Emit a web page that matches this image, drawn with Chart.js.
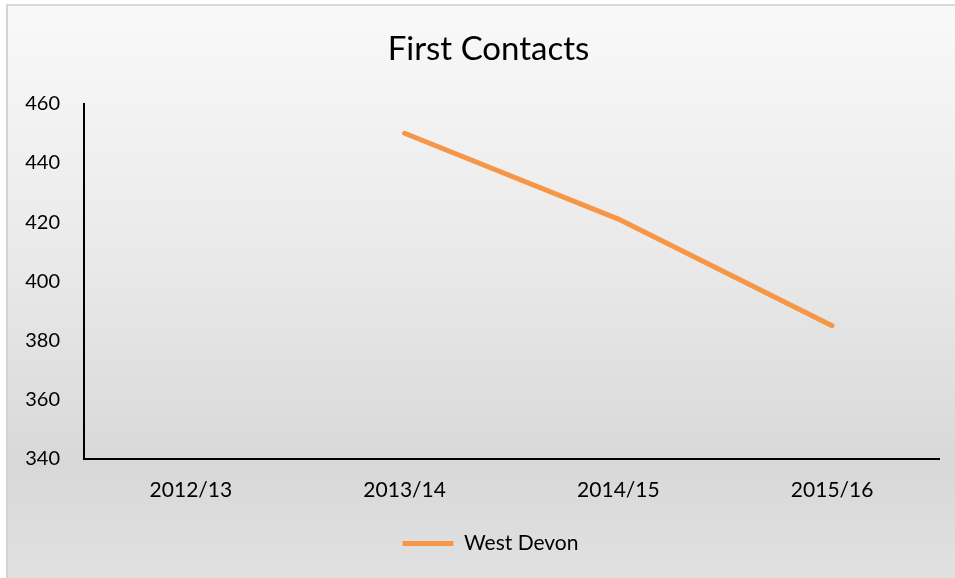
<!DOCTYPE html>
<html>
<head>
<meta charset="utf-8">
<script src="https://cdn.jsdelivr.net/npm/chart.js@4"></script>
<style>
    body { margin: 0; background: #fff; }
    #frame {
        position: absolute; left: 6px; top: 4px; width: 949px; height: 574px;
        border-left: 2px solid #d4d4d4; border-top: 2px solid #d9d9d9;
        background: linear-gradient(to bottom, #f9f9f9 0%, #e9e9e9 45%, #d8d8d8 80%, #e1e1e1 100%);
    }
    #wrap { position: absolute; left: 0; top: 0; width: 955px; height: 578px; }
</style>
</head>
<body>
<div id="frame"></div>
<div id="wrap"><canvas id="firstContactsChart"></canvas></div>
<script>
// Chart data
const years = ['2012/13', '2013/14', '2014/15', '2015/16'];
const westDevon = [null, 450, 421, 385];
const yTicks = [340, 360, 380, 400, 420, 440, 460];

const FONT = 'Lato, "Open Sans", sans-serif';

// Title and legend sit a little right of centre in the original
const nudgeBoxes = {
    id: 'nudgeBoxes',
    afterLayout(chart) {
        if (chart.titleBlock) {
            chart.titleBlock.left += 12;
            chart.titleBlock.right += 12;
        }
        if (chart.legend) {
            chart.legend.left += 14;
            chart.legend.right += 14;
        }
    }
};

function drawChart() {
    const ctx = document.getElementById('firstContactsChart').getContext('2d');

    new Chart(ctx, {
        type: 'line',
        data: {
            labels: years,
            datasets: [{
                label: 'West Devon',
                data: westDevon,
                borderColor: '#f79646',
                backgroundColor: '#f79646',
                borderWidth: 5,
                borderCapStyle: 'round',
                borderJoinStyle: 'round',
                pointRadius: 0,
                tension: 0,
                fill: false
            }]
        },
        options: {
            responsive: true,
            maintainAspectRatio: false,
            animation: false,
            layout: { padding: { left: 14, right: 16, top: 0, bottom: 14 } },
            plugins: {
                title: {
                    display: true,
                    text: 'First Contacts',
                    color: '#000',
                    font: { family: FONT, size: 33, weight: 'normal' },
                    padding: { top: 30, bottom: 34 }
                },
                legend: {
                    position: 'bottom',
                    labels: {
                        color: '#000',
                        font: { family: FONT, size: 21 },
                        usePointStyle: true,
                        pointStyle: 'line',
                        pointStyleWidth: 51,
                        boxHeight: 5,
                        padding: 10
                    }
                },
                tooltip: { enabled: false }
            },
            scales: {
                x: {
                    offset: true,
                    afterFit: scale => { scale.height = 64; },
                    grid: { display: false, drawTicks: false },
                    border: { display: true, color: '#000', width: 2 },
                    ticks: {
                        color: '#000',
                        font: { family: FONT, size: 21 },
                        padding: 19,
                        maxRotation: 0
                    }
                },
                y: {
                    min: yTicks[0],
                    max: yTicks[yTicks.length - 1],
                    afterBuildTicks: scale => {
                        scale.ticks = yTicks.map(v => ({ value: v }));
                    },
                    afterFit: scale => { scale.width = 70; },
                    grid: { display: false, drawTicks: false },
                    border: { display: true, color: '#000', width: 2 },
                    ticks: {
                        color: '#000',
                        font: { family: FONT, size: 20 },
                        padding: 24
                    }
                }
            }
        },
        plugins: [nudgeBoxes]
    });
}

document.addEventListener('DOMContentLoaded', drawChart);
</script>
</body>
</html>
